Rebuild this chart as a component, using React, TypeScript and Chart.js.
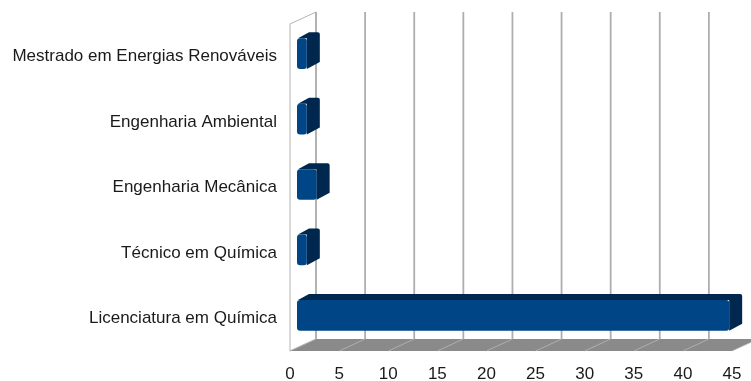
import React, { useEffect, useRef } from 'react';
import { Chart, registerables } from 'chart.js';

Chart.register(...registerables);

const categories = [
  'Mestrado em Energias Renováveis',
  'Engenharia Ambiental',
  'Engenharia Mecânica',
  'Técnico em Química',
  'Licenciatura em Química',
];
const values = [1, 1, 2, 1, 44];
const axisMin = 0;
const axisMax = 45;
const axisStep = 5;

const DX = 26;
const DY = -12;
const BAR_OX = 7;
const BAR_OY = -3;
const BAR_DX = 12;
const BAR_DY = -6;

const threeD = {
  id: 'threeD',
  beforeDatasetsDraw(chart: any) {
    const { ctx, chartArea, scales } = chart;
    const { left, top, bottom } = chartArea;
    const x = scales.x;
    ctx.save();
    // left wall
    ctx.beginPath();
    ctx.moveTo(left, top);
    ctx.lineTo(left + DX, top + DY);
    ctx.lineTo(left + DX, bottom + DY);
    ctx.lineTo(left, bottom);
    ctx.closePath();
    ctx.fillStyle = '#ffffff';
    ctx.fill();
    ctx.strokeStyle = '#b3b3b3';
    ctx.lineWidth = 1;
    ctx.stroke();
    // back wall gridlines
    ctx.strokeStyle = '#aeaeae';
    ctx.lineWidth = 1.8;
    for (let v = axisMin; v <= axisMax; v += axisStep) {
      const px = x.getPixelForValue(v) + DX;
      ctx.beginPath();
      ctx.moveTo(px, top + DY);
      ctx.lineTo(px, bottom + DY);
      ctx.stroke();
    }
    // floor
    const x0 = x.getPixelForValue(axisMin);
    const x1 = x.getPixelForValue(axisMax);
    ctx.beginPath();
    ctx.moveTo(x0, bottom);
    ctx.lineTo(x0 + DX, bottom + DY);
    ctx.lineTo(x1 + DX, bottom + DY);
    ctx.lineTo(x1, bottom);
    ctx.closePath();
    ctx.fillStyle = '#8a8a8a';
    ctx.fill();
    ctx.strokeStyle = '#b8b8b8';
    ctx.lineWidth = 0.8;
    for (let v = axisMin; v <= axisMax; v += axisStep) {
      const px = x.getPixelForValue(v);
      ctx.beginPath();
      ctx.moveTo(px, bottom);
      ctx.lineTo(px + DX, bottom + DY);
      ctx.stroke();
    }
    ctx.restore();
  },
  afterDatasetsDraw(chart: any) {
    const { ctx } = chart;
    const meta = chart.getDatasetMeta(0);
    ctx.save();
    meta.data.forEach((bar: any) => {
      const p = bar.getProps(['x', 'y', 'base', 'height'], true);
      const x0 = p.base + BAR_OX;
      const x1 = p.x + BAR_OX;
      const y0 = p.y - p.height / 2 + BAR_OY;
      const y1 = p.y + p.height / 2 + BAR_OY;
      ctx.beginPath();
      ctx.moveTo(x0 + 1, y0);
      ctx.lineTo(x0 + BAR_DX, y0 + BAR_DY);
      ctx.lineTo(x1 + BAR_DX - 1, y0 + BAR_DY);
      ctx.quadraticCurveTo(x1 + BAR_DX + 1, y0 + BAR_DY, x1 + BAR_DX + 1, y0 + BAR_DY + 2);
      ctx.lineTo(x1 + BAR_DX + 1, y1 + BAR_DY - 1);
      ctx.lineTo(x1, y1);
      ctx.lineTo(x1, y0);
      ctx.closePath();
      ctx.fillStyle = '#00284f';
      ctx.fill();
      ctx.beginPath();
      (ctx as any).roundRect(x0, y0, x1 - x0, y1 - y0, 3);
      ctx.fillStyle = '#004586';
      ctx.fill();
    });
    ctx.restore();
  },
};

export default function App() {
  const ref = useRef<HTMLCanvasElement | null>(null);
  useEffect(() => {
    document.body.style.margin = '0';
    const canvas = ref.current;
    if (!canvas) return;
    const font = { family: '"Liberation Sans", Arial, sans-serif', size: 17 };
    const chart = new Chart(canvas, {
      type: 'bar',
      data: {
        labels: categories,
        datasets: [
          {
            data: values,
            backgroundColor: 'rgba(0,0,0,0)',
            borderWidth: 0,
            categoryPercentage: 1,
            barPercentage: 0.47,
          },
        ],
      },
      options: {
        indexAxis: 'y',
        animation: false,
        responsive: false,
        maintainAspectRatio: false,
        layout: { padding: { top: 24, right: 19, left: 0, bottom: 0 } },
        plugins: {
          legend: { display: false },
          tooltip: { enabled: false },
        },
        scales: {
          x: {
            min: axisMin,
            max: axisMax,
            grid: { display: false, drawTicks: false },
            border: { display: false },
            ticks: { stepSize: axisStep, font, color: '#1a1a1a', padding: 13, maxRotation: 0 },
            afterFit: (s: any) => {
              s.height = 30;
              s.paddingLeft = 0;
              s.paddingRight = 0;
            },
          },
          y: {
            grid: { display: false, drawTicks: false },
            border: { display: false },
            ticks: { font, color: '#1a1a1a', padding: 13 },
            afterFit: (s: any) => {
              s.width = 290;
              s.paddingTop = 0;
              s.paddingBottom = 0;
            },
          },
        },
      },
      plugins: [threeD],
    });
    return () => chart.destroy();
  }, []);
  return (
    <div style={{ position: 'absolute', left: 0, top: 0, width: 751, height: 381 }}>
      <canvas ref={ref} width={751} height={381} style={{ display: 'block' }} />
    </div>
  );
}
